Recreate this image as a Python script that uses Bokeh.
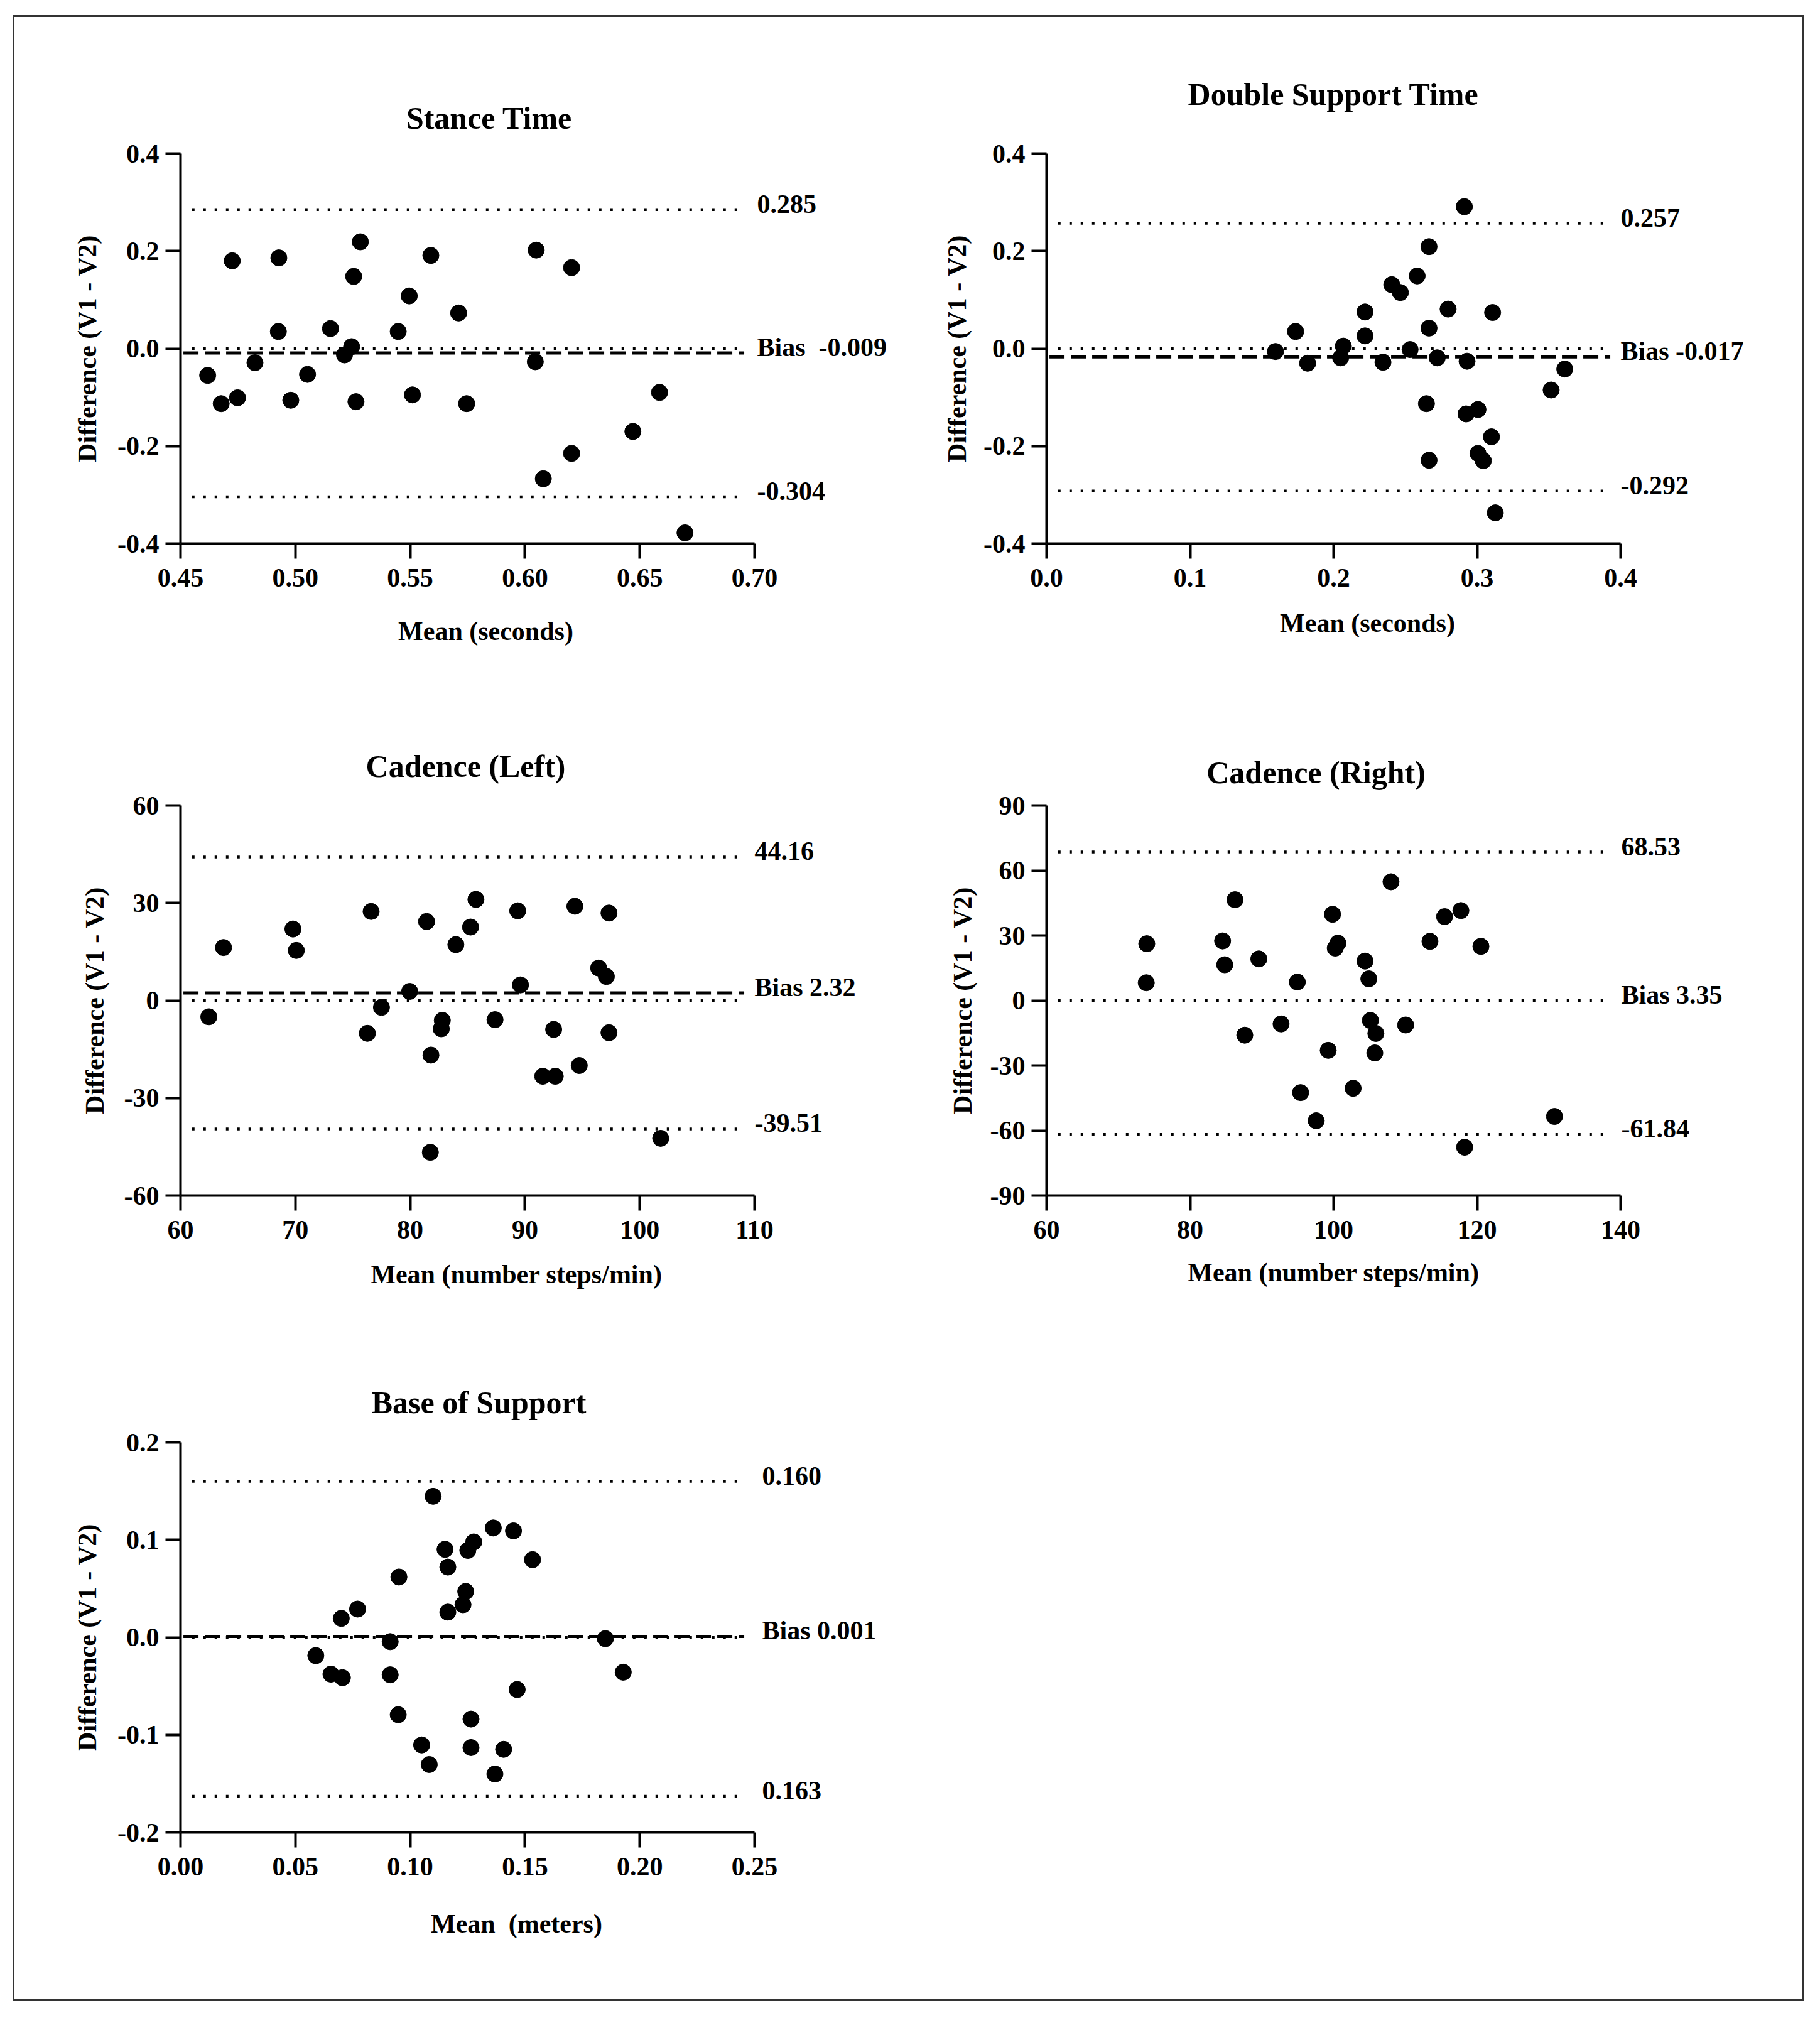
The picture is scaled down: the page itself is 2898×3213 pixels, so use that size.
import numpy as np
from bokeh.plotting import figure
from bokeh.layouts import column, row
from bokeh.models import (Range1d, FixedTicker, NumeralTickFormatter, LinearAxis,
                          CustomJSTickFormatter)
from bokeh.embed import file_html
from bokeh.resources import INLINE

FONT = "Liberation Serif"

# ---------------- data ----------------
stance_mean = [0.4618, 0.4677, 0.4725, 0.4748, 0.4824, 0.4926, 0.4928, 0.4980, 0.5053, 0.5153,
               0.5214, 0.5245, 0.5254, 0.5283, 0.5264, 0.5448, 0.5496, 0.5510, 0.5590, 0.5711,
               0.5746, 0.6049, 0.6045, 0.6080, 0.6203, 0.6203, 0.6470, 0.6586, 0.6697]
stance_diff = [-0.055, -0.113, 0.180, -0.101, -0.029, 0.035, 0.186, -0.106, -0.053, 0.041,
               -0.013, 0.004, 0.148, 0.219, -0.109, 0.035, 0.108, -0.095, 0.191, 0.073,
               -0.113, 0.202, -0.027, -0.267, 0.166, -0.215, -0.170, -0.090, -0.378]
stance_loa = [0.285, -0.009, -0.304]          # upper, bias, lower
stance_loa_text = ["0.285", "Bias \u00a0-0.009", "-0.304"]

dst_mean = [0.1595, 0.1735, 0.1819, 0.2068, 0.2049, 0.2219, 0.2219, 0.2344, 0.2405, 0.2465,
            0.2533, 0.2582, 0.2665, 0.2665, 0.2647, 0.2665, 0.2722, 0.2798, 0.2911, 0.2930,
            0.2923, 0.3006, 0.3006, 0.3043, 0.3100, 0.3108, 0.3127, 0.3516, 0.3611]
dst_diff = [-0.006, 0.035, -0.030, 0.005, -0.019, 0.075, 0.026, -0.028, 0.131, 0.115,
            -0.002, 0.149, 0.209, 0.042, -0.113, -0.229, -0.019, 0.081, 0.291, -0.026,
            -0.134, -0.125, -0.215, -0.230, -0.181, 0.074, -0.337, -0.085, -0.042]
dst_loa = [0.257, -0.017, -0.292]
dst_loa_text = ["0.257", "Bias -0.017", "-0.292"]

cadl_mean = [62.46, 63.74, 69.79, 70.08, 76.27, 76.60, 77.50, 79.96, 81.43, 81.81,
             81.76, 82.80, 82.71, 83.98, 85.26, 85.73, 87.39, 89.37, 89.61, 91.55,
             92.64, 92.50, 94.35, 94.73, 96.42, 97.09, 97.32, 97.32, 101.82]
cadl_diff = [-5.0, 16.3, 22.0, 15.4, -10.1, 27.4, -2.1, 2.8, 24.3, -16.8,
             -46.7, -6.1, -8.7, 17.2, 22.6, 31.1, -5.9, 27.6, 4.8, -23.3,
             -23.3, -8.9, 29.0, -20.0, 10.0, 7.4, 26.9, -9.9, -42.4]
cadl_loa = [44.16, 2.32, -39.51]
cadl_loa_text = ["44.16", "Bias 2.32", "-39.51"]

cadr_mean = [73.96, 73.89, 84.53, 84.83, 86.26, 87.62, 89.58, 92.68, 94.94, 95.40,
             97.58, 99.25, 99.85, 100.23, 100.60, 102.72, 104.38, 104.91, 105.13, 105.89,
             105.74, 108.00, 110.04, 113.43, 115.47, 117.74, 118.26, 120.53, 130.79]
cadr_diff = [26.2, 8.2, 27.5, 16.5, 46.5, -16.0, 19.2, -10.8, 8.5, -42.5,
             -55.5, -23.0, 39.8, 24.2, 26.5, -40.5, 18.2, 10.0, -9.2, -15.2,
             -24.2, 54.8, -11.3, 27.3, 38.7, 41.5, -67.7, 25.0, -53.5]
cadr_loa = [68.53, 3.35, -61.84]
cadr_loa_text = ["68.53", "Bias 3.35", "-61.84"]

bos_mean = [0.0589, 0.0655, 0.0705, 0.0700, 0.0771, 0.0913, 0.0913, 0.0951, 0.0948, 0.1050,
            0.1083, 0.1100, 0.1152, 0.1164, 0.1164, 0.1230, 0.1242, 0.1251, 0.1277, 0.1265,
            0.1265, 0.1362, 0.1369, 0.1407, 0.1450, 0.1466, 0.1533, 0.1850, 0.1928]
bos_diff = [-0.0187, -0.0377, -0.0414, 0.0195, 0.0290, -0.0044, -0.0384, 0.0619, -0.0793, -0.1103,
            -0.1304, 0.1447, 0.0903, 0.0721, 0.0259, 0.0335, 0.0471, 0.0892, 0.0979, -0.0838,
            -0.1130, 0.1122, -0.1401, -0.1148, 0.1092, -0.0535, 0.0797, -0.0013, -0.0357]
bos_loa = [0.160, 0.001, -0.163]
bos_loa_text = ["0.160", "Bias 0.001", "0.163"]

# axis ticks
stance_xticks = [0.45, 0.50, 0.55, 0.60, 0.65, 0.70]
dst_xticks = [0.0, 0.1, 0.2, 0.3, 0.4]
time_yticks = [-0.4, -0.2, 0.0, 0.2, 0.4]
cadl_xticks = [60, 70, 80, 90, 100, 110]
cadl_yticks = [-60, -30, 0, 30, 60]
cadr_xticks = [60, 80, 100, 120, 140]
cadr_yticks = [-90, -60, -30, 0, 30, 60, 90]
bos_xticks = [0.00, 0.05, 0.10, 0.15, 0.20, 0.25]
bos_yticks = [-0.2, -0.1, 0.0, 0.1, 0.2]

FRAME_W, FRAME_H = 914, 621

# Times/Liberation Serif Bold advance widths (em/1000) to place the titles
_W = {" ": 250, "(": 333, ")": 333, "B": 667, "C": 722, "D": 722, "L": 667, "R": 722,
      "S": 556, "T": 667, "a": 500, "b": 556, "c": 444, "d": 556, "e": 444, "f": 333,
      "g": 500, "h": 556, "i": 278, "l": 278, "m": 833, "n": 556, "o": 500, "p": 556,
      "r": 444, "s": 389, "t": 333, "u": 556}


def text_width(s, size):
    return sum(_W.get(ch, 500) for ch in s) / 1000.0 * size


def style_text_axis(ax, size="42px"):
    ax.major_label_text_font = FONT
    ax.major_label_text_font_style = "bold"
    ax.major_label_text_font_size = size
    ax.major_label_text_color = "black"


def panel(title, xlabel, xs, ys, xticks, xfmt, yticks, yfmt, loa, loa_text,
          draw_bias, left, right, top, bottom, title_standoff, title_shift,
          xl_standoff, xl_shift, yl_standoff, label_standoff):
    x0, x1 = xticks[0], xticks[-1]
    y0, y1 = yticks[0], yticks[-1]
    p = figure(width=left + FRAME_W + right, height=top + FRAME_H + bottom,
               x_range=Range1d(x0, x1), y_range=Range1d(y0, y1),
               output_backend="svg", toolbar_location=None,
               min_border_left=left, min_border_right=right,
               min_border_top=top, min_border_bottom=bottom,
               background_fill_color="white", border_fill_color="white")
    p.outline_line_color = None
    p.grid.visible = False

    p.title.text = title
    p.title.align = "left"
    p.title.offset = FRAME_W / 2 + title_shift - text_width(title, 50) / 2
    p.title.text_font = FONT
    p.title.text_font_style = "bold"
    p.title.text_font_size = "50px"
    p.title.text_color = "black"
    p.title.standoff = title_standoff

    for ax, ticks, fmt in ((p.xaxis[0], xticks, xfmt), (p.yaxis[0], yticks, yfmt)):
        ax.ticker = FixedTicker(ticks=list(ticks))
        ax.formatter = NumeralTickFormatter(format=fmt)
        style_text_axis(ax)
        ax.axis_label_text_font = FONT
        ax.axis_label_text_font_style = "bold"
        ax.axis_label_text_font_size = "42px"
        ax.axis_label_text_color = "black"
        ax.axis_line_width = 4
        ax.axis_line_color = "black"
        ax.major_tick_line_width = 4
        ax.major_tick_line_color = "black"
        ax.major_tick_out = 24
        ax.major_tick_in = 0
        ax.minor_tick_line_color = None
    p.xaxis[0].major_label_standoff = 16
    p.yaxis[0].major_label_standoff = 10
    p.yaxis[0].axis_label = "Difference (V1 - V2)"
    p.yaxis[0].axis_label_standoff = yl_standoff

    # x-axis title, as a label-only axis below the tick labels
    span = x1 - x0
    xl_ax = LinearAxis(ticker=FixedTicker(ticks=[(x0 + x1) / 2 + xl_shift * span / FRAME_W]),
                       formatter=CustomJSTickFormatter(args=dict(t=xlabel), code="return t;"),
                       axis_line_color=None, major_tick_line_color=None,
                       minor_tick_line_color=None, major_tick_out=0, major_tick_in=0,
                       major_label_standoff=xl_standoff)
    style_text_axis(xl_ax)
    p.add_layout(xl_ax, "below")

    upper, bias, lower = loa
    ds, de = x0 + 0.02 * span, x0 + 0.982 * span
    # dotted lines: limits of agreement and zero
    p.segment(x0=[ds, ds, ds], x1=[de, de, de], y0=[upper, lower, 0.0], y1=[upper, lower, 0.0],
              line_color="black", line_width=4.5, line_dash="4 14")
    label_y = [upper, bias, lower]
    if draw_bias:
        p.segment(x0=[x0 + 0.005 * span], x1=[de], y0=[bias], y1=[bias],
                  line_color="black", line_width=5, line_dash="24 10")
    else:
        label_y[1] = 0.0

    p.scatter(xs, ys, size=26, marker="circle", fill_color="black", line_color="black")

    # line annotations on the right: label-only axis, slightly above each line
    lift = 9 * (y1 - y0) / FRAME_H
    tick_pos = [v + lift for v in label_y]
    r_ax = LinearAxis(ticker=FixedTicker(ticks=tick_pos),
                      formatter=CustomJSTickFormatter(args=dict(vals=tick_pos, txt=list(loa_text)), code="""
                          let best = 0;
                          for (let i = 0; i < vals.length; i++) {
                              if (Math.abs(vals[i] - tick) < Math.abs(vals[best] - tick)) best = i;
                          }
                          return txt[best];"""),
                      axis_line_color=None, major_tick_line_color=None,
                      minor_tick_line_color=None, major_tick_out=0, major_tick_in=0,
                      major_label_standoff=label_standoff)
    style_text_axis(r_ax)
    p.add_layout(r_ax, "right")
    return p


LEFT_A, RIGHT_A = 264, 230
LEFT_B, RIGHT_B = 235, 290

p1 = panel("Stance Time", "Mean (seconds)", stance_mean, stance_diff,
           stance_xticks, "0.00", time_yticks, "0.0", stance_loa, stance_loa_text, True,
           LEFT_A, RIGHT_A, 217, 200, 57, 35, 45, 29, 22, 4)
p2 = panel("Double Support Time", "Mean (seconds)", dst_mean, dst_diff,
           dst_xticks, "0.0", time_yticks, "0.0", dst_loa, dst_loa_text, True,
           LEFT_B, RIGHT_B, 217, 200, 133, 0, 32, 54, 16, 0)
p3 = panel("Cadence (Left)", "Mean (number steps/min)", cadl_mean, cadl_diff,
           cadl_xticks, "0", cadl_yticks, "0", cadl_loa, cadl_loa_text, True,
           LEFT_A, RIGHT_A, 217, 200, 69, -3, 31, 78, 21, 0)
p4 = panel("Cadence (Right)", "Mean (number steps/min)", cadr_mean, cadr_diff,
           cadr_xticks, "0", cadr_yticks, "0", cadr_loa, cadr_loa_text, False,
           LEFT_B, RIGHT_B, 217, 200, 49, -28, 28, 0, 18, 1)
p5 = panel("Base of Support", "Mean \u00a0(meters)", bos_mean, bos_diff,
           bos_xticks, "0.00", bos_yticks, "0.0", bos_loa, bos_loa_text, True,
           LEFT_A, RIGHT_A, 193, 266, 71, 18, 51, 78, 22, 12)

lay = column(row(p1, p2), row(p3, p4), row(p5),
             margin=(24, 0, 0, 20),
             styles={"border": "3px solid #333333", "background-color": "white"})

open("out.html", "w").write(file_html(lay, INLINE))
